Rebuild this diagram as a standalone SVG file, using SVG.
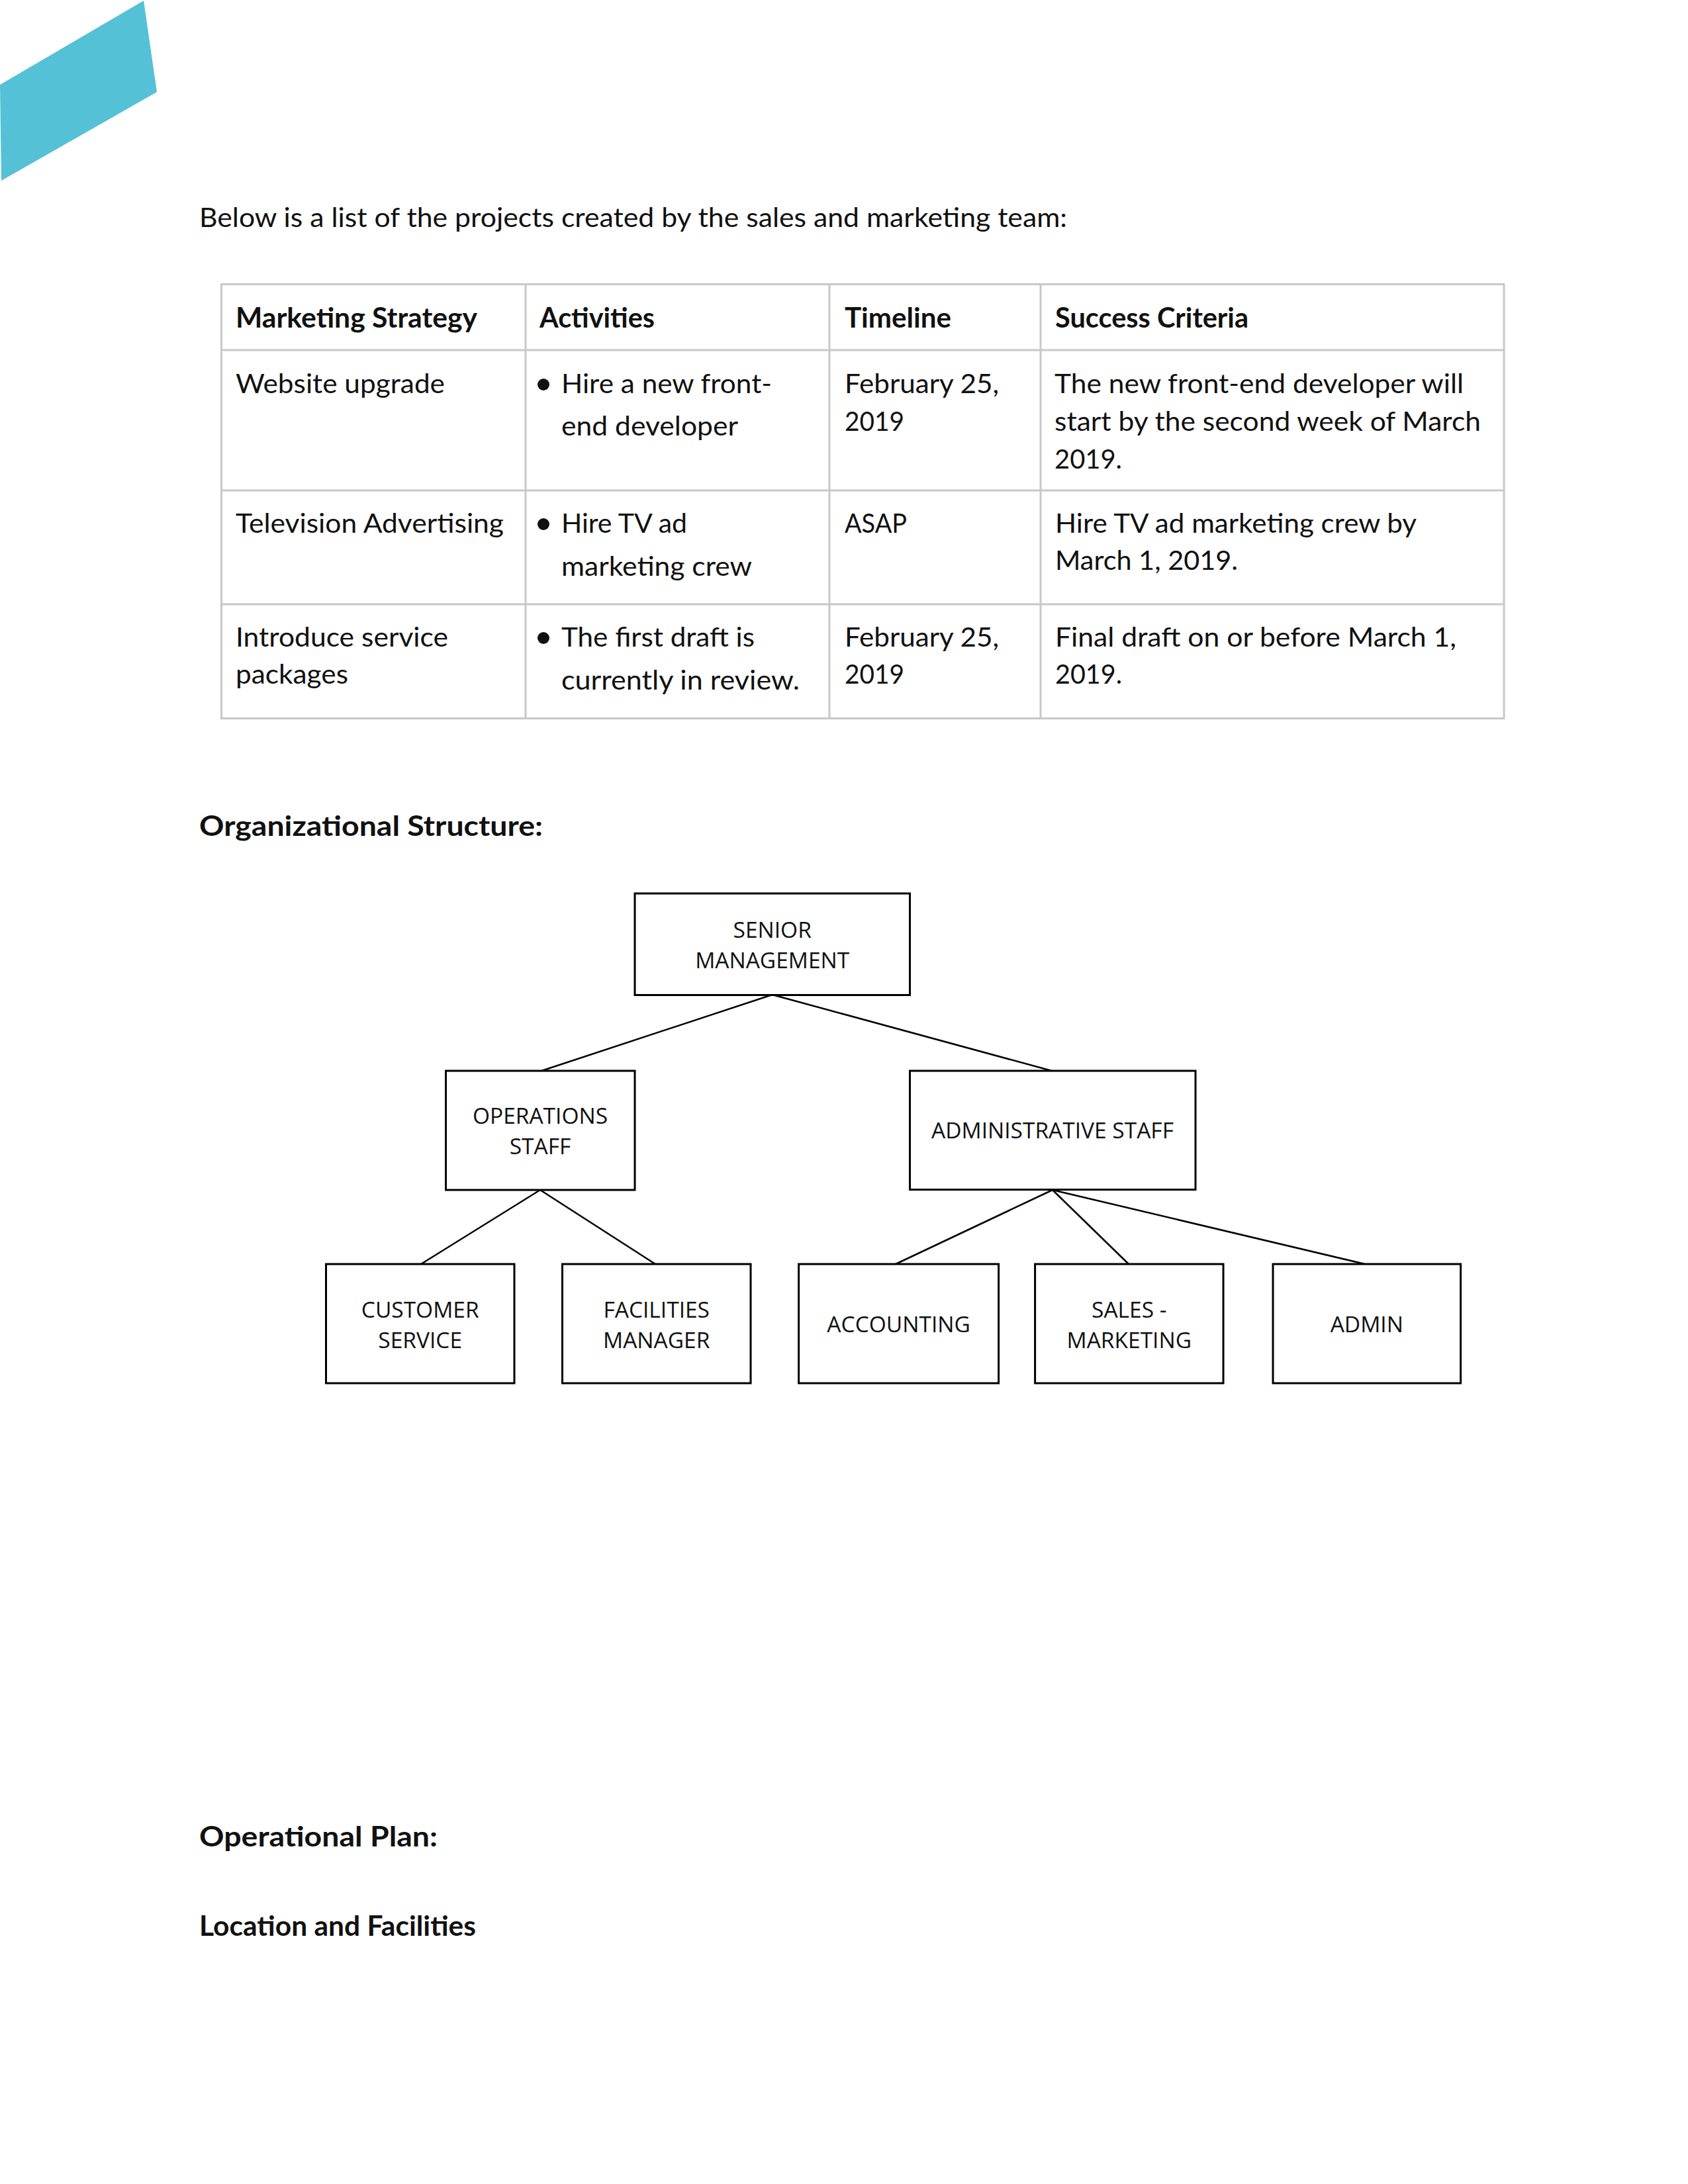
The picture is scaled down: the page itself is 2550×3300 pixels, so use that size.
<svg xmlns="http://www.w3.org/2000/svg" width="2550" height="3300" viewBox="0 0 2550 3300">
<style>
.b{font-family:Lato,"Liberation Sans",sans-serif;font-size:41px;fill:#111}
.h{font-family:Lato,"Liberation Sans",sans-serif;font-size:42px;font-weight:bold;fill:#111}
.t{font-family:"Open Sans","Liberation Sans",sans-serif;font-size:33.5px;fill:#111;text-anchor:middle}
.grid{stroke:#c8c8c8;stroke-width:3;fill:none}
.box{fill:#fff;stroke:#000;stroke-width:3}
.con{stroke:#000;stroke-width:2.5;fill:none}
.bul{fill:#111}
</style>
<rect width="2550" height="3300" fill="#fff"/>
<polygon points="0,128 217,1 237,139 2,273" fill="#55c1d7"/>

<text class="b" x="301" y="343" textLength="1311" lengthAdjust="spacingAndGlyphs">Below is a list of the projects created by the sales and marketing team:</text>

<g id="table">
<rect class="grid" x="334.5" y="429.5" width="1937.5" height="656"/>
<line class="grid" x1="334.5" y1="529" x2="2272" y2="529"/>
<line class="grid" x1="334.5" y1="741" x2="2272" y2="741"/>
<line class="grid" x1="334.5" y1="913" x2="2272" y2="913"/>
<line class="grid" x1="794" y1="429.5" x2="794" y2="1085.5"/>
<line class="grid" x1="1253" y1="429.5" x2="1253" y2="1085.5"/>
<line class="grid" x1="1572" y1="429.5" x2="1572" y2="1085.5"/>

<text class="h" x="356" y="495" textLength="365" lengthAdjust="spacingAndGlyphs">Marketing Strategy</text>
<text class="h" x="815" y="495" textLength="174" lengthAdjust="spacingAndGlyphs">Activities</text>
<text class="h" x="1276" y="495" textLength="161" lengthAdjust="spacingAndGlyphs">Timeline</text>
<text class="h" x="1594" y="495" textLength="292" lengthAdjust="spacingAndGlyphs">Success Criteria</text>

<text class="b" x="356" y="594" textLength="316" lengthAdjust="spacingAndGlyphs">Website upgrade</text>
<circle class="bul" cx="821" cy="581" r="9"/>
<text class="b" x="848" y="594" textLength="318" lengthAdjust="spacingAndGlyphs">Hire a new front-</text>
<text class="b" x="848" y="658" textLength="267" lengthAdjust="spacingAndGlyphs">end developer</text>
<text class="b" x="1276" y="594" textLength="233" lengthAdjust="spacingAndGlyphs">February 25,</text>
<text class="b" x="1276" y="651" textLength="90" lengthAdjust="spacingAndGlyphs">2019</text>
<text class="b" x="1593" y="594" textLength="618" lengthAdjust="spacingAndGlyphs">The new front-end developer will</text>
<text class="b" x="1593" y="651" textLength="644" lengthAdjust="spacingAndGlyphs">start by the second week of March</text>
<text class="b" x="1593" y="708" textLength="102" lengthAdjust="spacingAndGlyphs">2019.</text>

<text class="b" x="356" y="805" textLength="405" lengthAdjust="spacingAndGlyphs">Television Advertising</text>
<circle class="bul" cx="821" cy="792" r="9"/>
<text class="b" x="848" y="805" textLength="190" lengthAdjust="spacingAndGlyphs">Hire TV ad</text>
<text class="b" x="848" y="870" textLength="288" lengthAdjust="spacingAndGlyphs">marketing crew</text>
<text class="b" x="1276" y="805" textLength="94" lengthAdjust="spacingAndGlyphs">ASAP</text>
<text class="b" x="1594" y="805" textLength="546" lengthAdjust="spacingAndGlyphs">Hire TV ad marketing crew by</text>
<text class="b" x="1594" y="861" textLength="276" lengthAdjust="spacingAndGlyphs">March 1, 2019.</text>

<text class="b" x="356" y="977" textLength="321" lengthAdjust="spacingAndGlyphs">Introduce service</text>
<text class="b" x="356" y="1033" textLength="170" lengthAdjust="spacingAndGlyphs">packages</text>
<circle class="bul" cx="821" cy="964" r="9"/>
<text class="b" x="848" y="977" textLength="292" lengthAdjust="spacingAndGlyphs">The first draft is</text>
<text class="b" x="848" y="1042" textLength="360" lengthAdjust="spacingAndGlyphs">currently in review.</text>
<text class="b" x="1276" y="977" textLength="233" lengthAdjust="spacingAndGlyphs">February 25,</text>
<text class="b" x="1276" y="1033" textLength="90" lengthAdjust="spacingAndGlyphs">2019</text>
<text class="b" x="1594" y="977" textLength="606" lengthAdjust="spacingAndGlyphs">Final draft on or before March 1,</text>
<text class="b" x="1594" y="1033" textLength="101" lengthAdjust="spacingAndGlyphs">2019.</text>
</g>

<text class="h" x="301" y="1263" textLength="519" lengthAdjust="spacingAndGlyphs">Organizational Structure:</text>

<g id="connectors">
<line class="con" x1="1166.7" y1="1503" x2="818" y2="1618"/>
<line class="con" x1="1166.7" y1="1503" x2="1589" y2="1618"/>
<line class="con" x1="816" y1="1798" x2="636" y2="1910"/>
<line class="con" x1="816" y1="1798" x2="990" y2="1910"/>
<line class="con" x1="1590" y1="1798" x2="1353" y2="1910"/>
<line class="con" x1="1590" y1="1798" x2="1705" y2="1910"/>
<line class="con" x1="1590" y1="1798" x2="2062" y2="1910"/>
</g>

<g id="senior-management">
<rect class="box" x="959" y="1350" width="415.5" height="153.5"/>
<text class="t" x="1166.7" y="1417">SENIOR</text>
<text class="t" x="1166.7" y="1463">MANAGEMENT</text>
</g>
<g id="operations-staff">
<rect class="box" x="673.5" y="1618" width="285.5" height="180"/>
<text class="t" x="816" y="1698">OPERATIONS</text>
<text class="t" x="816" y="1744">STAFF</text>
</g>
<g id="administrative-staff">
<rect class="box" x="1374.5" y="1618" width="431.5" height="179.5"/>
<text class="t" x="1590" y="1720">ADMINISTRATIVE STAFF</text>
</g>
<g id="customer-service">
<rect class="box" x="492.5" y="1910" width="284.5" height="180"/>
<text class="t" x="634.7" y="1991">CUSTOMER</text>
<text class="t" x="634.7" y="2037">SERVICE</text>
</g>
<g id="facilities-manager">
<rect class="box" x="849.5" y="1910" width="284.5" height="180"/>
<text class="t" x="991.7" y="1991">FACILITIES</text>
<text class="t" x="991.7" y="2037">MANAGER</text>
</g>
<g id="accounting">
<rect class="box" x="1206.6" y="1910" width="302" height="180"/>
<text class="t" x="1357.6" y="2013">ACCOUNTING</text>
</g>
<g id="sales-marketing">
<rect class="box" x="1563.6" y="1910" width="284.4" height="180"/>
<text class="t" x="1705.8" y="1991">SALES -</text>
<text class="t" x="1705.8" y="2037">MARKETING</text>
</g>
<g id="admin">
<rect class="box" x="1923" y="1910" width="283.6" height="180"/>
<text class="t" x="2064.8" y="2013">ADMIN</text>
</g>

<text class="h" x="301" y="2790" textLength="360" lengthAdjust="spacingAndGlyphs">Operational Plan:</text>
<text class="h" x="301" y="2925" textLength="418" lengthAdjust="spacingAndGlyphs">Location and Facilities</text>
</svg>
